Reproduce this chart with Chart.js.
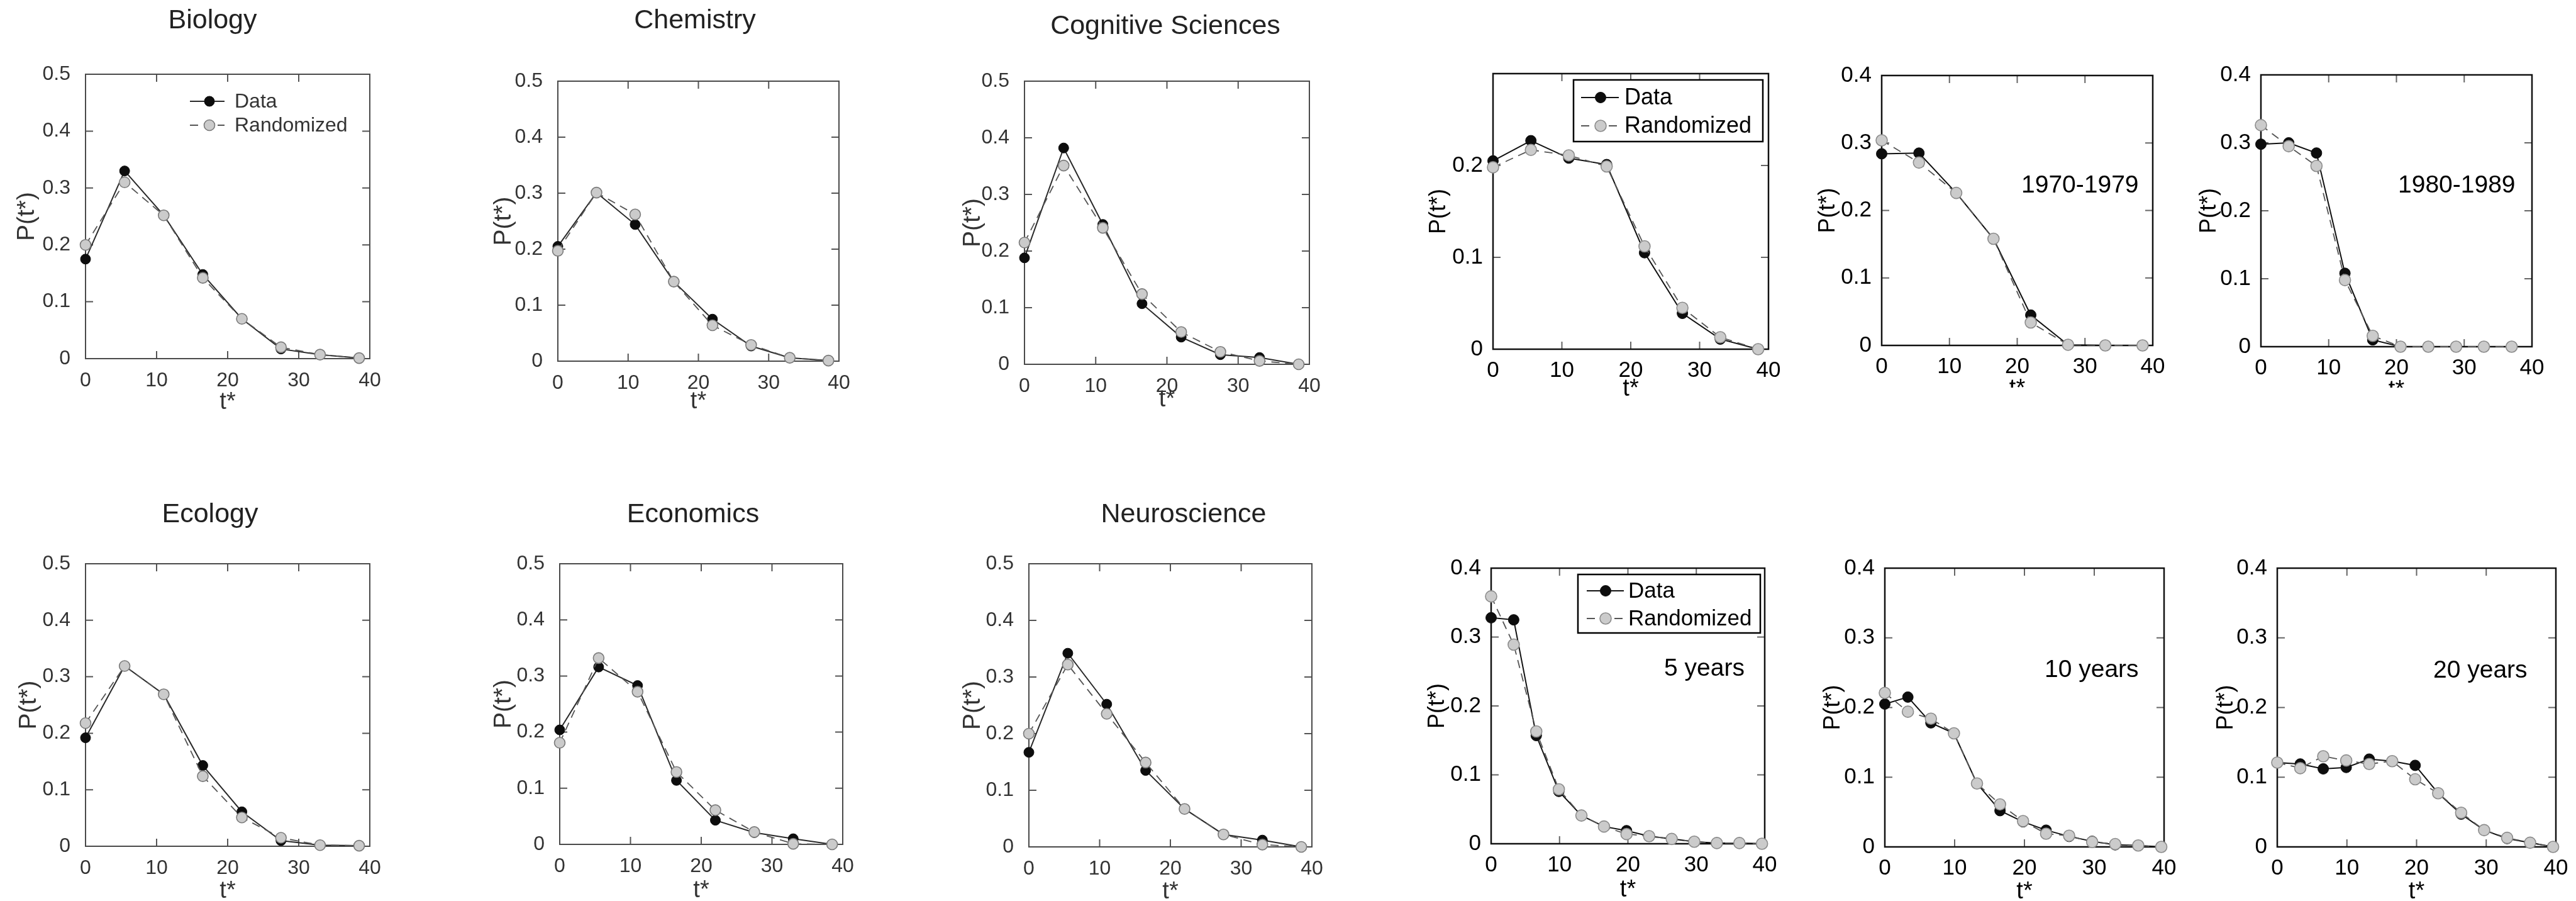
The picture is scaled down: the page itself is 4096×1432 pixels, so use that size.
<!DOCTYPE html>
<html>
<head>
<meta charset="utf-8">
<script src="https://cdn.jsdelivr.net/npm/chart.js@4.4.1/dist/chart.umd.min.js"></script>
<style>
html, body { margin: 0; padding: 0; background: #fff; }
body { width: 4096px; height: 1432px; position: relative; overflow: hidden; }
canvas { position: absolute; }
</style>
</head>
<body>
<script>
// t* bin positions
const tStar8 = [0, 5.5, 11, 16.5, 22, 27.5, 33, 38.5];
const tStar10 = [0, 4.1, 8.2, 12.4, 16.5, 20.6, 24.7, 28.8, 32.9, 37];
const tStar13 = [0, 3.3, 6.6, 9.9, 13.2, 16.5, 19.8, 23.1, 26.4, 29.7, 33, 36.3, 39.6];

// P(t*) per field: data vs randomized
const biologyData = [0.175, 0.330, 0.252, 0.148, 0.070, 0.017, 0.007, 0.001];
const biologyRand = [0.200, 0.310, 0.252, 0.142, 0.070, 0.020, 0.007, 0.001];
const chemistryData = [0.205, 0.301, 0.244, 0.142, 0.075, 0.027, 0.006, 0.001];
const chemistryRand = [0.197, 0.301, 0.262, 0.142, 0.064, 0.029, 0.006, 0.001];
const cognitiveData = [0.188, 0.382, 0.247, 0.107, 0.048, 0.017, 0.012, 0.000];
const cognitiveRand = [0.215, 0.351, 0.241, 0.124, 0.057, 0.022, 0.006, 0.000];
const ecologyData = [0.192, 0.319, 0.269, 0.143, 0.061, 0.010, 0.002, 0.001];
const ecologyRand = [0.218, 0.319, 0.269, 0.124, 0.051, 0.015, 0.002, 0.001];
const economicsData = [0.204, 0.316, 0.283, 0.114, 0.043, 0.021, 0.010, 0.000];
const economicsRand = [0.181, 0.332, 0.272, 0.129, 0.061, 0.022, 0.001, 0.000];
const neuroData = [0.167, 0.342, 0.252, 0.135, 0.067, 0.022, 0.012, 0.000];
const neuroRand = [0.200, 0.322, 0.235, 0.149, 0.067, 0.022, 0.004, 0.000];

// decades
const allYearsData = [0.205, 0.227, 0.208, 0.201, 0.105, 0.039, 0.011, 0.000];
const allYearsRand = [0.198, 0.217, 0.211, 0.199, 0.112, 0.045, 0.013, 0.000];
const seventiesData = [0.284, 0.285, 0.226, 0.158, 0.045, 0.001, 0.000, 0.000];
const seventiesRand = [0.304, 0.271, 0.226, 0.158, 0.034, 0.001, 0.000, 0.000];
const eightiesData = [0.298, 0.300, 0.285, 0.108, 0.010, 0, 0, 0, 0, 0];
const eightiesRand = [0.326, 0.295, 0.266, 0.098, 0.016, 0, 0, 0, 0, 0];

// window lengths
const fiveYearData = [0.328, 0.325, 0.157, 0.076, 0.041, 0.025, 0.019, 0.011, 0.007, 0.003, 0.001, 0.001, 0];
const fiveYearRand = [0.359, 0.289, 0.163, 0.079, 0.041, 0.025, 0.014, 0.011, 0.007, 0.003, 0.001, 0.001, 0];
const tenYearData = [0.205, 0.215, 0.178, 0.163, 0.091, 0.052, 0.036, 0.024, 0.015, 0.008, 0.003, 0.002, 0];
const tenYearRand = [0.221, 0.194, 0.184, 0.163, 0.091, 0.061, 0.037, 0.019, 0.016, 0.007, 0.004, 0.002, 0];
const twentyYearData = [0.121, 0.119, 0.112, 0.114, 0.126, 0.123, 0.117, 0.077, 0.047, 0.024, 0.012, 0.006, 0];
const twentyYearRand = [0.121, 0.113, 0.130, 0.124, 0.119, 0.123, 0.097, 0.077, 0.049, 0.024, 0.013, 0.006, 0];

const xTicks = [0, 10, 20, 30, 40];

Chart.defaults.font.family = '"Liberation Sans", Arial, Helvetica, sans-serif';

// L/R/T/B = plot box in page px
const panels = [
    { title: 'Biology', tx: 338, ty: 33, L: 136, R: 588, T: 118, B: 570, yMax: 0.5, t: tStar8, data: biologyData, rand: biologyRand, yDx: 93, tDy: 70, legend: 'plain' },
    { title: 'Chemistry', tx: 1105, ty: 33, L: 887, R: 1334, T: 129, B: 574, yMax: 0.5, t: tStar8, data: chemistryData, rand: chemistryRand, yDx: 86, tDy: 65 },
    { title: 'Cognitive Sciences', tx: 1853, ty: 42, L: 1629, R: 2082, T: 129, B: 579, yMax: 0.5, t: tStar8, data: cognitiveData, rand: cognitiveRand, yDx: 82, tDy: 57 },
    { right: true, L: 2374, R: 2812, T: 117, B: 555, yMax: 0.3, hideTop: true, t: tStar8, data: allYearsData, rand: allYearsRand, yDx: 86, tDy: 64, legend: 'box' },
    { right: true, L: 2992, R: 3423, T: 120, B: 549, yMax: 0.4, t: tStar8, data: seventiesData, rand: seventiesRand, yDx: 85, tDy: 70, clipBottom: 616, note: '1970-1979', nx: 222, ny: 175 },
    { right: true, L: 3595, R: 4026, T: 119, B: 551, yMax: 0.4, t: tStar10, data: eightiesData, rand: eightiesRand, yDx: 82, tDy: 70, clipBottom: 616, note: '1980-1989', nx: 218, ny: 176 },
    { title: 'Ecology', tx: 334, ty: 818, L: 136, R: 588, T: 896, B: 1345, yMax: 0.5, t: tStar8, data: ecologyData, rand: ecologyRand, yDx: 90, tDy: 72 },
    { title: 'Economics', tx: 1102, ty: 818, L: 890, R: 1340, T: 896, B: 1342, yMax: 0.5, t: tStar8, data: economicsData, rand: economicsRand, yDx: 89, tDy: 74 },
    { title: 'Neuroscience', tx: 1882, ty: 818, L: 1636, R: 2086, T: 896, B: 1346, yMax: 0.5, t: tStar8, data: neuroData, rand: neuroRand, yDx: 89, tDy: 72 },
    { right: true, L: 2371, R: 2806, T: 903, B: 1341, yMax: 0.4, t: tStar13, data: fiveYearData, rand: fiveYearRand, yDx: 85, tDy: 74, legend: 'box2', note: '5 years', nx: 275, ny: 160 },
    { right: true, L: 2997, R: 3441, T: 903, B: 1346, yMax: 0.4, t: tStar13, data: tenYearData, rand: tenYearRand, yDx: 82, tDy: 72, note: '10 years', nx: 254, ny: 162 },
    { right: true, L: 3621, R: 4064, T: 903, B: 1346, yMax: 0.4, t: tStar13, data: twentyYearData, rand: twentyYearRand, yDx: 81, tDy: 72, note: '20 years', nx: 248, ny: 163 }
];

// legend placements, relative to plot top-left
const legendSpots = {
    plain: { sx0: 166, mx: 197, sx1: 221, tx: 237, rows: [43, 81], font: 32, box: null },
    box: { sx0: 140, mx: 171, sx1: 200, tx: 209, rows: [38, 83], font: 36, box: [128, 10, 301, 98] },
    box2: { sx0: 152, mx: 182, sx1: 211, tx: 218, rows: [36, 80], font: 35, box: [138, 10, 290, 93] }
};

const framePlugin = {
    id: 'frame',
    beforeDatasetsDraw(chart, args, o) {
        const { ctx, chartArea: a } = chart;
        const xs = chart.scales.x, ys = chart.scales.y;
        ctx.save();
        ctx.strokeStyle = o.tickColor;
        ctx.lineWidth = o.tickWidth;
        ctx.beginPath();
        xs.ticks.forEach(tk => {
            if (tk.value <= xs.min + 1e-9 || tk.value >= xs.max - 1e-9) return;
            const px = xs.getPixelForValue(tk.value);
            ctx.moveTo(px, a.bottom); ctx.lineTo(px, a.bottom - o.tickLen);
            ctx.moveTo(px, a.top); ctx.lineTo(px, a.top + o.tickLen);
        });
        ys.ticks.forEach(tk => {
            if (tk.value <= ys.min + 1e-9 || tk.value >= ys.max - 1e-9) return;
            const py = ys.getPixelForValue(tk.value);
            ctx.moveTo(a.left, py); ctx.lineTo(a.left + o.tickLen, py);
            ctx.moveTo(a.right, py); ctx.lineTo(a.right - o.tickLen, py);
        });
        ctx.stroke();
        ctx.strokeStyle = o.boxColor;
        ctx.lineWidth = o.boxWidth;
        ctx.strokeRect(a.left, a.top, a.right - a.left, a.bottom - a.top);
        ctx.restore();
    },
    afterDraw(chart, args, o) {
        const { ctx, chartArea: a } = chart;
        ctx.save();
        if (o.title) {
            ctx.fillStyle = '#222';
            ctx.font = '43px "Liberation Sans", Arial, sans-serif';
            ctx.textAlign = 'center';
            ctx.textBaseline = 'middle';
            ctx.fillText(o.title, a.left + o.titleDx, a.top - o.titleDy);
        }
        if (o.note) {
            ctx.fillStyle = '#000';
            ctx.font = '39px "Liberation Sans", Arial, sans-serif';
            ctx.textAlign = 'left';
            ctx.textBaseline = 'middle';
            ctx.fillText(o.note, a.left + o.nx, a.top + o.ny);
        }
        if (o.legend) {
            const lg = legendSpots[o.legend];
            if (lg.box) {
                ctx.fillStyle = '#fff';
                ctx.fillRect(a.left + lg.box[0], a.top + lg.box[1], lg.box[2], lg.box[3]);
                ctx.strokeStyle = '#000';
                ctx.lineWidth = 2.5;
                ctx.strokeRect(a.left + lg.box[0], a.top + lg.box[1], lg.box[2], lg.box[3]);
            }
            chart.data.datasets.forEach((ds, i) => {
                const y = a.top + lg.rows[i];
                ctx.strokeStyle = ds.borderColor;
                ctx.lineWidth = ds.borderWidth;
                ctx.setLineDash(ds.borderDash || []);
                ctx.beginPath();
                ctx.moveTo(a.left + lg.sx0, y);
                ctx.lineTo(a.left + lg.sx1, y);
                ctx.stroke();
                ctx.setLineDash([]);
                ctx.beginPath();
                ctx.arc(a.left + lg.mx, y, ds.pointRadius, 0, Math.PI * 2);
                ctx.fillStyle = ds.pointBackgroundColor;
                ctx.fill();
                ctx.strokeStyle = ds.pointBorderColor;
                ctx.lineWidth = ds.pointBorderWidth;
                ctx.stroke();
                ctx.fillStyle = lg.box ? '#000' : '#333';
                ctx.font = lg.font + 'px "Liberation Sans", Arial, sans-serif';
                ctx.textAlign = 'left';
                ctx.textBaseline = 'middle';
                ctx.fillText(ds.label, a.left + lg.tx, y + 1);
            });
        }
        ctx.restore();
    }
};

function makePanel(p) {
    const right = !!p.right;
    const wY = 140;
    const padTop = right ? 30 : 130;
    const padRight = 30;
    let hX = p.B > 1000 ? 1432 - p.B : 100;
    if (p.clipBottom) hX = p.clipBottom - p.B;
    const tickFont = right ? 35 : 32;
    const yTitleFont = right ? 36 : 39;
    const xTitleFont = 38;
    const textColor = right ? '#000' : '#333';

    const w = wY + (p.R - p.L) + padRight;
    const h = padTop + (p.B - p.T) + hX;
    const cv = document.createElement('canvas');
    cv.width = w;
    cv.height = h;
    cv.style.left = (p.L - wY) + 'px';
    cv.style.top = (p.T - padTop) + 'px';
    cv.style.width = w + 'px';
    cv.style.height = h + 'px';
    document.body.appendChild(cv);

    const pr = right ? 8.5 : 8;
    new Chart(cv.getContext('2d'), {
        type: 'line',
        data: {
            datasets: [{
                label: 'Data',
                data: p.t.map((t, i) => ({ x: t, y: p.data[i] })),
                borderColor: right ? '#111' : '#2a2a2a',
                borderWidth: 2,
                pointBackgroundColor: '#0d0d0d',
                pointBorderColor: '#0d0d0d',
                pointBorderWidth: 1,
                pointRadius: pr,
                tension: 0,
                clip: false,
                order: 1
            }, {
                label: 'Randomized',
                data: p.t.map((t, i) => ({ x: t, y: p.rand[i] })),
                borderColor: '#555',
                borderWidth: 1.8,
                borderDash: [13, 9],
                pointBackgroundColor: '#cbcbcb',
                pointBorderColor: right ? '#8c8c8c' : '#7a7a7a',
                pointBorderWidth: 1.6,
                pointRadius: pr + 0.5,
                tension: 0,
                clip: false,
                order: 0
            }]
        },
        options: {
            responsive: false,
            animation: false,
            events: [],
            layout: { padding: { top: padTop, right: padRight, left: 0, bottom: 0 } },
            scales: {
                x: {
                    type: 'linear',
                    min: 0,
                    max: 40,
                    afterBuildTicks: s => { s.ticks = xTicks.map(v => ({ value: v })); },
                    ticks: { padding: right ? 5 : 8, font: { size: tickFont }, color: textColor, maxRotation: 0, autoSkip: false },
                    grid: { display: false },
                    border: { display: false },
                    title: { display: true, text: 't*', font: { size: xTitleFont }, color: textColor, padding: { top: 0, bottom: hX - p.tDy - xTitleFont * 0.6 } },
                    afterFit: s => { s.height = hX; }
                },
                y: {
                    type: 'linear',
                    min: 0,
                    max: p.yMax,
                    ticks: {
                        stepSize: 0.1,
                        padding: right ? 8 : 16,
                        font: { size: tickFont },
                        color: textColor,
                        callback: v => {
                            if (p.hideTop && Math.abs(v - p.yMax) < 1e-6) return '';
                            return Math.abs(v) < 1e-9 ? '0' : v.toFixed(1);
                        }
                    },
                    grid: { display: false },
                    border: { display: false },
                    title: { display: true, text: 'P(t*)', font: { size: yTitleFont }, color: textColor, padding: { top: wY - p.yDx - yTitleFont * 0.6, bottom: 0 } },
                    afterFit: s => { s.width = wY; }
                }
            },
            plugins: {
                legend: { display: false },
                tooltip: { enabled: false },
                frame: {
                    boxColor: right ? '#111' : '#4a4a4a',
                    boxWidth: right ? 2.5 : 2,
                    tickColor: right ? '#666' : '#555',
                    tickWidth: 2,
                    tickLen: 12,
                    title: p.title,
                    titleDx: p.title ? p.tx - p.L : 0,
                    titleDy: p.title ? p.T - p.ty : 0,
                    note: p.note,
                    nx: p.nx,
                    ny: p.ny,
                    legend: p.legend
                }
            }
        },
        plugins: [framePlugin]
    });
}

panels.forEach(makePanel);
</script>
</body>
</html>
